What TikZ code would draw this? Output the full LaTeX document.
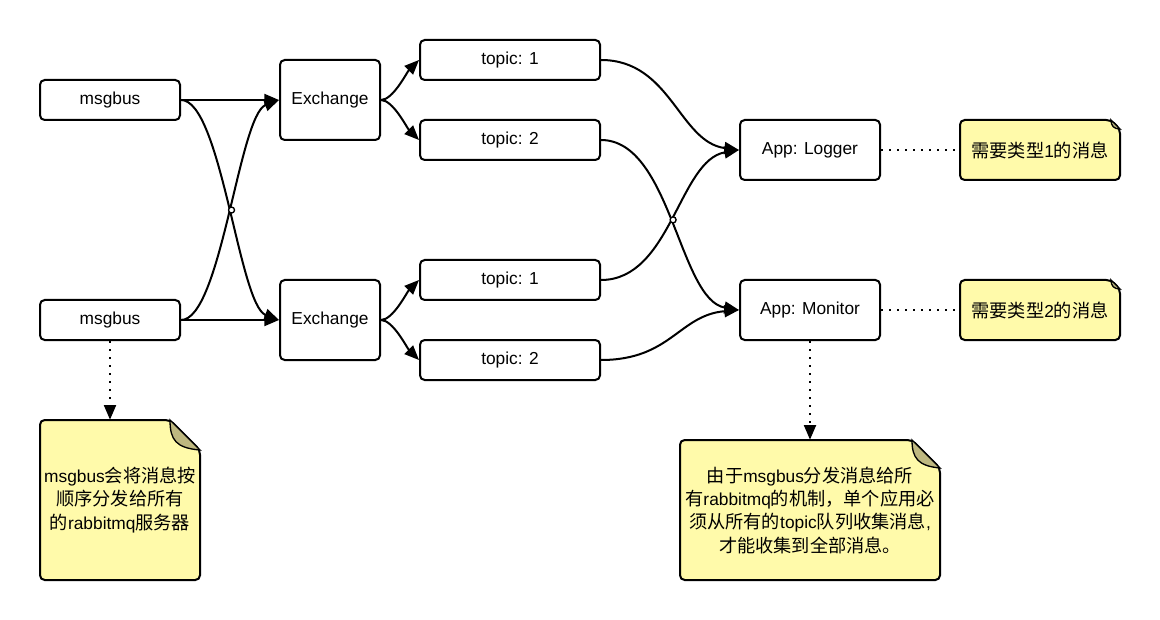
\documentclass[tikz,border=0pt]{standalone}
\usepackage{fontspec}
\setmainfont{Liberation Sans}
\newfontfamily\cjk[Scale=1.05]{Noto Sans CJK SC}
\usetikzlibrary{arrows.meta,intersections}
\definecolor{noteyellow}{RGB}{255,250,170}
\definecolor{notefold}{RGB}{190,184,128}
\tikzset{
  box/.style={draw, line width=1.5pt, rounded corners=3.5pt, inner sep=0pt, align=center},
  flow/.style={line width=1.5pt, -{Triangle[length=11pt,width=9pt]}},
  link/.style={line width=1.5pt, dash pattern=on 1.5pt off 4.5pt},
  note/.style={draw, line width=1.5pt, fill=noteyellow, rounded corners=3.5pt},
  fold/.style={draw, line width=1pt, fill=notefold},
  notetext/.style={inner sep=0pt, align=center},
  hop/.style={draw, line width=1pt, fill=white},
}
\begin{document}
\begin{tikzpicture}[x=0.75pt,y=0.75pt,yscale=-1,xscale=1,
    font=\fontsize{13pt}{17.5pt}\selectfont]
        \useasboundingbox (0,0) rectangle (1160,620);

        %Shape: Note [msgbus]
        \draw[note] (40,420) -- (170,420) -- (200,450) -- (200,580) -- (40,580) -- cycle ;
        \draw[fold] (170,420) .. controls (170,440) and (176,448) .. (200,450) -- cycle ;
        %Shape: Note [monitor]
        \draw[note] (680,440) -- (912,440) -- (940,468) -- (940,580) -- (680,580) -- cycle ;
        \draw[fold] (912,440) .. controls (912,458) and (918,466) .. (940,468) -- cycle ;
        %Shape: Note [type 1]
        \draw[note] (960,120) -- (1111,120) -- (1120,129) -- (1120,180) -- (960,180) -- cycle ;
        \draw[fold] (1111,120) .. controls (1111,126) and (1114,129) .. (1120,129) -- cycle ;
        %Shape: Note [type 2]
        \draw[note] (960,280) -- (1111,280) -- (1120,289) -- (1120,340) -- (960,340) -- cycle ;
        \draw[fold] (1111,280) .. controls (1111,286) and (1114,289) .. (1120,289) -- cycle ;

        % Boxes
        \node[box, minimum width=105pt, minimum height=30pt] (bus1) at (110,100) {msgbus};
        \node[box, minimum width=105pt, minimum height=30pt] (bus2) at (110,320) {msgbus};
        \node[box, minimum width=75pt, minimum height=60pt] (ex1) at (330,100) {Exchange};
        \node[box, minimum width=75pt, minimum height=60pt] (ex2) at (330,320) {Exchange};
        \node[box, minimum width=135pt, minimum height=30pt] (t1a) at (510,60) {topic: 1};
        \node[box, minimum width=135pt, minimum height=30pt] (t2a) at (510,140) {topic: 2};
        \node[box, minimum width=135pt, minimum height=30pt] (t1b) at (510,280) {topic: 1};
        \node[box, minimum width=135pt, minimum height=30pt] (t2b) at (510,360) {topic: 2};
        \node[box, minimum width=105pt, minimum height=45pt] (log) at (810,150) {App: Logger};
        \node[box, minimum width=105pt, minimum height=45pt] (mon) at (810,310) {App: Monitor};

        % Note texts
        \node[notetext, minimum width=120pt, minimum height=120pt] (notebus) at (120,500)
            {msgbus{\cjk 会将消息按}\\{\cjk 顺序分发给所有}\\{\cjk 的}rabbitmq{\cjk 服务器}};
        \node[notetext, minimum width=195pt, minimum height=105pt] (notemon) at (810,510)
            {{\cjk 由于}msgbus{\cjk 分发消息给所}\\{\cjk 有}rabbitmq{\cjk 的机制，单个应用必}\\{\cjk 须从所有的}topic{\cjk 队列收集消息}, \\{\cjk 才能收集到全部消息。}};
        \node[notetext, minimum width=120pt, minimum height=45pt] (notelog) at (1040,150) {{\cjk 需要类型}1{\cjk 的消息}};
        \node[notetext, minimum width=120pt, minimum height=45pt] (notemon2) at (1040,310) {{\cjk 需要类型}2{\cjk 的消息}};

        % msgbus -> Exchange
        \draw[flow] (bus1.east) -- (ex1.west) ;
        \draw[flow] (bus2.east) -- (ex2.west) ;
        \draw[flow, name path=busa] (bus1.east) .. controls +(40,0) and +(-40,-15) .. (ex2.west) ;
        \draw[flow, name path=busb] (bus2.east) .. controls +(40,0) and +(-40,15) .. (ex1.west) ;
        \path[name intersections={of=busa and busb}] (intersection-1) node[hop, circle, inner sep=0pt, minimum size=4.5pt] (hop1) {};

        % Exchange -> topic
        \draw[flow] (ex1.east) .. controls +(12,0) and +(-12,12) .. (t1a.west) ;
        \draw[flow] (ex1.east) .. controls +(12,0) and +(-12,-12) .. (t2a.west) ;
        \draw[flow] (ex2.east) .. controls +(12,0) and +(-12,12) .. (t1b.west) ;
        \draw[flow] (ex2.east) .. controls +(12,0) and +(-12,-12) .. (t2b.west) ;

        % topic -> App
        \draw[flow] (t1a.east) .. controls +(70,0) and +(-60,-8) .. (log.west) ;
        \draw[flow, name path=tpa] (t2a.east) .. controls +(70,0) and +(-60,-10) .. (mon.west) ;
        \draw[flow, name path=tpb] (t1b.east) .. controls +(70,0) and +(-60,10) .. (log.west) ;
        \draw[flow] (t2b.east) .. controls +(70,0) and +(-60,5) .. (mon.west) ;
        \path[name intersections={of=tpa and tpb}] (intersection-1) node[hop, circle, inner sep=0pt, minimum size=4.5pt] (hop2) {};

        % Dotted links
        \draw[link, -{Triangle[length=11pt,width=9pt]}] (bus2.south) -- (bus2.south |- notebus.north) ;
        \draw[link, -{Triangle[length=11pt,width=9pt]}] (mon.south) -- (notemon.north) ;
        \draw[link] (log.east) -- (notelog.west) ;
        \draw[link] (mon.east) -- (notemon2.west) ;
    \end{tikzpicture}
\end{document}
